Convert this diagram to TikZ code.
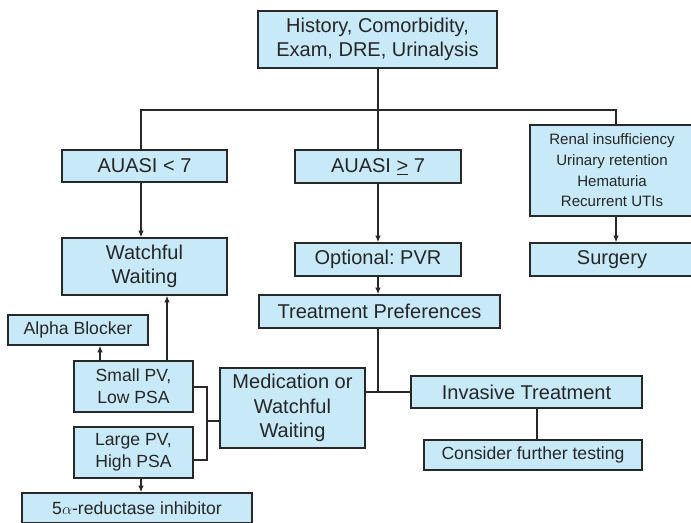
\documentclass[tikz,border=0pt]{standalone}
\usepackage{fontspec}
\setmainfont{Liberation Sans}
\frenchspacing
\usetikzlibrary{arrows.meta}
\definecolor{boxfill}{RGB}{200,234,248}
\definecolor{linec}{RGB}{40,40,40}
\tikzset{
  box/.style={draw=linec, line width=0.9pt, fill=boxfill, inner sep=0pt, align=center, text=black!85},
  span/.style n args={4}{minimum width={(#3-#1)*0.75pt}, minimum height={(#4-#2)*0.75pt}, at={({(#1+#3)/2},{(#2+#4)/2})}},
  big/.style={font=\fontsize{15}{18.2}\selectfont},
  mid/.style={font=\fontsize{13.2}{16.5}\selectfont},
  small/.style={font=\fontsize{11.3}{15.5}\selectfont},
  conn/.style={draw=linec, line width=0.9pt},
  arr/.style={conn, -{Latex[length=5pt,width=4pt]}}
}
\begin{document}
\begin{tikzpicture}[x=0.75pt,y=-0.75pt]
\useasboundingbox (0,0) rectangle (691,522);
\clip (0,0) rectangle (691,522);
\fill[white] (0,0) rectangle (691,522);
% boxes
\node[box,big,span={258}{11}{497}{68}] (top) {History, Comorbidity,\\Exam, DRE, Urinalysis};
\node[box,big,span={62}{150}{227}{182}] (lt) {AUASI < 7};
\node[box,big,span={295}{150}{461}{183}] (ge) {AUASI \underline{>} 7};
\node[box,small,span={530}{125}{694}{216}] (renal) {Renal insufficiency\\Urinary retention\\Hematuria\\Recurrent UTIs};
\node[box,big,span={62}{238}{227}{295}] (ww) {Watchful\\Waiting};
\node[box,big,span={295}{243}{461}{276}] (pvr) {Optional: PVR};
\node[box,big,span={530}{243}{694}{276}] (surg) {Surgery};
\node[box,big,span={259}{295}{500}{328}] (tp) {Treatment Preferences};
\node[box,mid,span={8}{315}{148}{345}] (alpha) {Alpha Blocker};
\node[box,mid,span={74}{361}{193}{412}] (smallpv) {Small PV,\\Low PSA};
\node[box,mid,span={74}{427}{193}{478}] (largepv) {Large PV,\\High PSA};
\node[box,big,span={220}{368}{365}{448}] (med) {Medication or\\Watchful\\Waiting};
\node[box,big,span={411}{376}{642}{408}] (inv) {Invasive Treatment};
\node[box,mid,span={424}{440}{642}{470}] (cons) {Consider further testing};
\node[box,mid,span={22}{493}{252}{523}] (five) {5$\alpha$-reductase inhibitor};
% junction coordinates
\coordinate (busL) at (141,110);
\coordinate (busM) at (378,110);
\coordinate (busR) at (616,110);
\coordinate (jT) at (378,392);
\coordinate (brTop) at (207,387);
\coordinate (brBot) at (207,460);
\coordinate (brMid) at (207,421);
% connectors
\draw[conn] (top.south -| busM) -- (ge.north -| busM);
\draw[conn] (lt.north -| busL) -- (busL) -- (busR) -- (renal.north -| busR);
\draw[arr] (lt.south -| busL) -- (ww.north -| busL);
\draw[arr] (ge.south -| busM) -- (pvr.north -| busM);
\draw[arr] (pvr.south -| busM) -- (tp.north -| busM);
\draw[arr] (renal.south -| busR) -- (surg.north -| busR);
\draw[conn] (tp.south -| jT) -- (jT);
\draw[conn] (med.east |- jT) -- (inv.west |- jT);
\draw[conn] (inv.south -| 537,0) -- (cons.north -| 537,0);
\draw[conn] (smallpv.east |- brTop) -- (brTop) -- (brBot) -- (largepv.east |- brBot);
\draw[conn] (brMid) -- (med.west |- brMid);
\draw[arr] (smallpv.north -| 100,0) -- (alpha.south -| 100,0);
\draw[arr] (smallpv.north -| 167,0) -- (ww.south -| 167,0);
\draw[arr] (largepv.south -| 141,0) -- (five.north -| 141,0);
\end{tikzpicture}
\end{document}
